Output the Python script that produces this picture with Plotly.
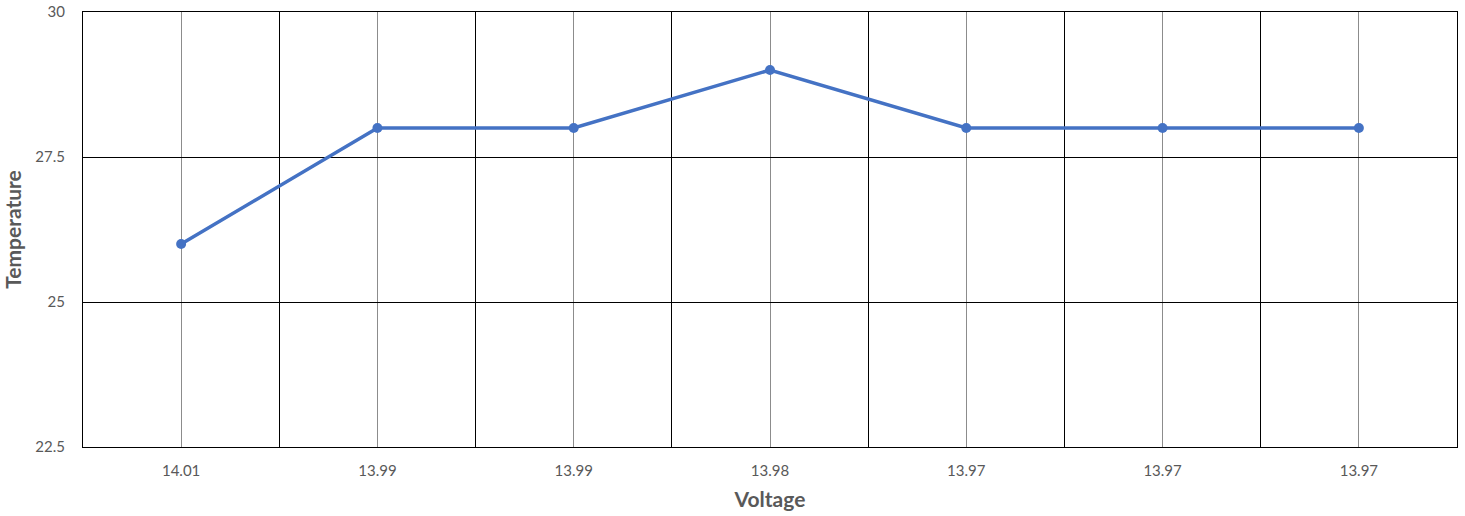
import plotly.graph_objects as go

categories = ["14.01", "13.99", "13.99", "13.98", "13.97", "13.97", "13.97"]
temperature = [26, 28, 28, 29, 28, 28, 28]

x_pos = list(range(len(categories)))
boundaries = [i - 0.5 for i in range(len(categories) + 1)]

fig = go.Figure()
fig.add_trace(go.Scatter(
    x=x_pos, y=temperature, mode="lines+markers",
    line=dict(color="#4472C4", width=3.5),
    marker=dict(color="#4472C4", size=10),
    showlegend=False,
))

font_family = "Lato, 'Open Sans', sans-serif"

fig.update_xaxes(
    range=[-0.5, len(categories) - 0.5],
    tickmode="array", tickvals=x_pos, ticktext=categories,
    showgrid=True, gridcolor="#8c8c8c", gridwidth=1,
    minor=dict(tickmode="array", tickvals=boundaries, showgrid=True,
               gridcolor="#000000", gridwidth=1, ticks=""),
    showline=True, linecolor="#000000", linewidth=1, mirror=True,
    zeroline=False, ticks="", ticklabelstandoff=10,
    ticklabeloverflow="allow",
    automargin=False,
    tickfont=dict(family=font_family, size=15, color="#595959"),
    title=dict(text="<b>Voltage</b>", font=dict(family=font_family, size=21, color="#595959"), standoff=14),
)
fig.update_yaxes(
    range=[22.5, 30], tick0=22.5, dtick=2.5,
    showgrid=True, gridcolor="#000000", gridwidth=1,
    showline=True, linecolor="#000000", linewidth=1, mirror=True,
    zeroline=False, ticks="", ticklabelstandoff=14,
    ticklabeloverflow="allow",
    automargin=False,
    tickfont=dict(family=font_family, size=15, color="#595959"),
    title=dict(text="<b>Temperature</b>", font=dict(family=font_family, size=21, color="#595959"), standoff=10),
)

fig.update_layout(
    width=1465, height=516,
    margin=dict(l=83, r=8, t=12, b=69),
    plot_bgcolor="white", paper_bgcolor="white",
)

fig.write_html("out.html", config={"displayModeBar": False},
               post_script="document.body.style.margin='0';")
